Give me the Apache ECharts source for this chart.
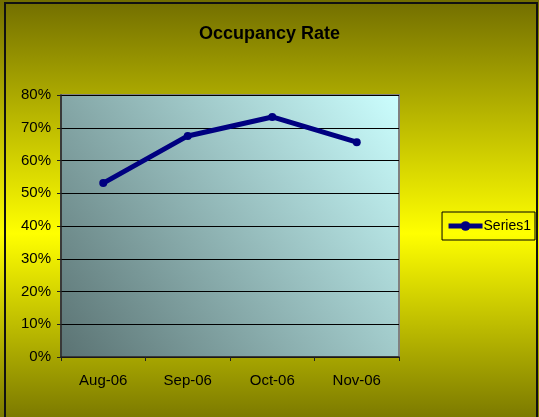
<!DOCTYPE html>
<html>
<head>
<meta charset="utf-8">
<script src="https://cdn.jsdelivr.net/npm/echarts@6/dist/echarts.min.js"></script>
<style>
  html, body { margin: 0; padding: 0; background: #fff; }
  #chart { width: 539px; height: 417px; }
</style>
</head>
<body>
<div id="chart"></div>
<script>
// data
const months = ['Aug-06', 'Sep-06', 'Oct-06', 'Nov-06'];
const occupancy = [0.531, 0.675, 0.733, 0.656];
const seriesName = 'Series1';

let myChart = echarts.init(document.getElementById('chart'));

const option = {
  backgroundColor: new echarts.graphic.LinearGradient(0, 0, 0, 1, [
    { offset: 0, color: '#726e00' },
    { offset: 0.56, color: '#ffff00' },
    { offset: 1, color: '#7c7a00' }
  ]),
  title: {
    text: 'Occupancy Rate',
    left: 'center',
    top: 20,
    textStyle: {
      fontFamily: 'Liberation Sans, Arial, sans-serif',
      fontSize: 18,
      fontWeight: 'bold',
      color: '#000'
    }
  },
  legend: {
    right: 4,
    top: 212,
    orient: 'vertical',
    borderColor: '#000',
    borderWidth: 1,
    padding: [7, 4, 7, 4],
    itemWidth: 34,
    itemHeight: 12,
    itemGap: 2,
    lineStyle: { width: 5 },
    textStyle: {
      fontFamily: 'Liberation Sans, Arial, sans-serif',
      fontSize: 14,
      color: '#000',
      padding: [0, 0, 0, -4]
    },
    data: [seriesName]
  },
  grid: {
    left: 61,
    right: 140,
    top: 95,
    bottom: 60,
    show: true,
    borderColor: '#808080',
    borderWidth: 2,
    backgroundColor: new echarts.graphic.LinearGradient(0, 1, 1, 0, [
      { offset: 0, color: '#5a7272' },
      { offset: 1, color: '#ccffff' }
    ])
  },
  xAxis: {
    type: 'category',
    data: months,
    boundaryGap: true,
    axisLine: { lineStyle: { color: '#222', width: 1.5 } },
    axisTick: { show: true, length: 4, lineStyle: { color: '#222' } },
    axisLabel: {
      margin: 16,
      fontFamily: 'Liberation Sans, Arial, sans-serif',
      fontSize: 15,
      color: '#000'
    }
  },
  yAxis: {
    type: 'value',
    min: 0,
    max: 0.8,
    interval: 0.1,
    axisLine: { show: true, lineStyle: { color: '#222', width: 1.5 } },
    axisTick: { show: true, length: 4, lineStyle: { color: '#222' } },
    splitLine: { show: true, lineStyle: { color: '#000', width: 1 } },
    axisLabel: {
      margin: 10,
      fontFamily: 'Liberation Sans, Arial, sans-serif',
      fontSize: 15,
      color: '#000',
      formatter: v => Math.round(v * 100) + '%'
    }
  },
  series: [
    {
      name: seriesName,
      type: 'line',
      data: occupancy,
      symbol: 'circle',
      symbolSize: 8,
      lineStyle: { color: '#000080', width: 5 },
      itemStyle: { color: '#000080' },
      animation: false
    }
  ],
  graphic: [
    {
      type: 'rect',
      shape: { x: 5, y: 3, width: 532, height: 430 },
      style: { fill: 'none', stroke: '#111', lineWidth: 2 },
      silent: true
    }
  ]
};

myChart.setOption(option);
</script>
</body>
</html>
